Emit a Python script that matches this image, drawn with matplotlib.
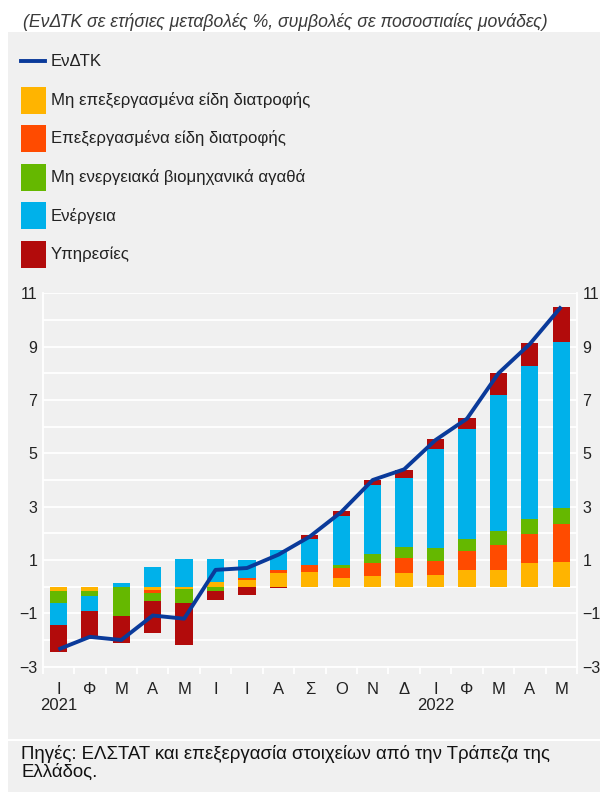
import matplotlib
matplotlib.use("Agg")
import matplotlib.pyplot as plt
import numpy as np
from matplotlib.patches import Rectangle
from matplotlib.lines import Line2D

# ---- data ----
months = ["Ι", "Φ", "Μ", "Α", "Μ", "Ι", "Ι", "Α", "Σ", "Ο", "Ν", "Δ",
          "Ι", "Φ", "Μ", "Α", "Μ"]
years = {0: "2021", 12: "2022"}
series_names = ["Μη επεξεργασμένα είδη διατροφής", "Επεξεργασμένα είδη διατροφής",
                "Μη ενεργειακά βιομηχανικά αγαθά", "Ενέργεια", "Υπηρεσίες"]
unprocessed_food = [-0.17, -0.17, 0.00, -0.14, -0.07, 0.19, 0.25, 0.51, 0.55, 0.34,
                    0.40, 0.51, 0.44, 0.63, 0.63, 0.89, 0.93]
processed_food = [0.00, 0.00, 0.00, -0.09, 0.00, 0.00, 0.09, 0.12, 0.25, 0.37,
                  0.49, 0.57, 0.52, 0.69, 0.94, 1.09, 1.42]
neig = [-0.46, -0.17, -1.09, -0.30, -0.53, -0.16, 0.00, 0.00, 0.00, 0.10,
        0.35, 0.40, 0.50, 0.45, 0.52, 0.56, 0.61]
energy = [-0.81, -0.58, 0.14, 0.75, 1.05, 0.83, 0.66, 0.74, 0.98, 1.85,
          2.57, 2.59, 3.70, 4.15, 5.10, 5.74, 6.21]
services = [-1.00, -1.05, -1.04, -1.22, -1.60, -0.34, -0.31, -0.05, 0.16, 0.17,
            0.19, 0.30, 0.37, 0.41, 0.82, 0.86, 1.31]
hicp = [-2.35, -1.88, -2.00, -1.08, -1.20, 0.63, 0.70, 1.20, 1.88, 2.80,
        4.00, 4.40, 5.50, 6.30, 8.00, 9.10, 10.50]
line_name = "ΕνΔΤΚ"

colors = ["#FFB400", "#FF4B00", "#65B800", "#00B1EA", "#B20B0B"]
line_color = "#0A3A9A"
bg = "#F0F0F0"
font = "Liberation Sans"
plt.rcParams["font.family"] = [font, "DejaVu Sans"]

W, H = 600, 792
fig = plt.figure(figsize=(W / 100, H / 100), dpi=100)

def fx(px):
    return px / W

def fy(py):
    return 1 - py / H

# gray panel
fig.patches.append(Rectangle((fx(8), 0), 1 - fx(8), fy(32.3), transform=fig.transFigure,
                             facecolor=bg, edgecolor="none", zorder=-10))

ax = fig.add_axes([fx(42.7), fy(666.7), fx(577) - fx(42.7), fy(293.3) - fy(666.7)])
ax.set_facecolor(bg)

x = np.arange(len(months))
data = [unprocessed_food, processed_food, neig, energy, services]
pos_base = np.zeros(len(x))
neg_base = np.zeros(len(x))
for vals, c in zip(data, colors):
    v = np.array(vals)
    p = np.where(v > 0, v, 0)
    n = np.where(v < 0, v, 0)
    ax.bar(x, p, bottom=pos_base, width=0.55, color=c, zorder=3, linewidth=0)
    ax.bar(x, n, bottom=neg_base, width=0.55, color=c, zorder=3, linewidth=0)
    pos_base += p
    neg_base += n

ax.plot(x, hicp, color=line_color, lw=2.8, zorder=4, solid_capstyle="butt")

ax.set_xlim(-0.5, len(x) - 0.5)
ax.set_ylim(-3, 11)
ax.set_yticks(np.arange(-3, 12, 2))
ax.set_yticks(np.arange(-3, 12, 1), minor=True)
ax.grid(which="both", axis="y", color="white", lw=1.3, zorder=1)
ax.tick_params(axis="y", which="both", length=0, labelsize=11.5, labelcolor="#222222",
               left=False, right=False, labelleft=True, labelright=True, pad=4)

ax.set_xticks(x)
ax.set_xticklabels(months, fontsize=12, color="#222222")
ax.tick_params(axis="x", which="major", length=0, pad=11)
ax.set_xticks(np.arange(-0.5, len(x), 1), minor=True)
ax.tick_params(axis="x", which="minor", length=5, color="white", width=1.3)

ax.spines["top"].set_visible(False)
for s in ["left", "right", "bottom"]:
    ax.spines[s].set_color("white")
    ax.spines[s].set_linewidth(1.3)

for i, yr in years.items():
    ax.text(i, -0.103, yr, transform=ax.get_xaxis_transform(), ha="center", va="center",
            fontsize=12, color="#222222")

# title
fig.text(fx(22.7), fy(21.7), "(ΕνΔΤΚ σε ετήσιες μεταβολές %, συμβολές σε ποσοστιαίες μονάδες)",
         fontsize=12.7, style="italic", color="#3a3a3a", ha="left", va="center")

# legend
fig.lines.append(Line2D([fx(21), fx(45)], [fy(61), fy(61)], transform=fig.transFigure,
                        color=line_color, lw=2.8))
fig.text(fx(50.7), fy(61), line_name, fontsize=12.1, color="#222222", ha="left", va="center")
legend_y = [100.3, 138.3, 177.3, 215.7, 254.3]
for name, c, yc in zip(series_names, colors, legend_y):
    fig.patches.append(Rectangle((fx(21), fy(yc + 13.3)), fx(25), (26.6 / H),
                                 transform=fig.transFigure, facecolor=c, edgecolor="none"))
    fig.text(fx(50.7), fy(yc), name, fontsize=12.1, color="#222222", ha="left", va="center")

# separator and source
fig.lines.append(Line2D([fx(8), 1], [fy(739.5), fy(739.5)], transform=fig.transFigure,
                        color="white", lw=1.5))
fig.text(fx(21), fy(763), "Πηγές: ΕΛΣΤΑΤ και επεξεργασία στοιχείων από την Τράπεζα της\nΕλλάδος.",
         fontsize=13.4, color="#111111", ha="left", va="center", linespacing=1.05)

fig.savefig("out.png", dpi=100)
